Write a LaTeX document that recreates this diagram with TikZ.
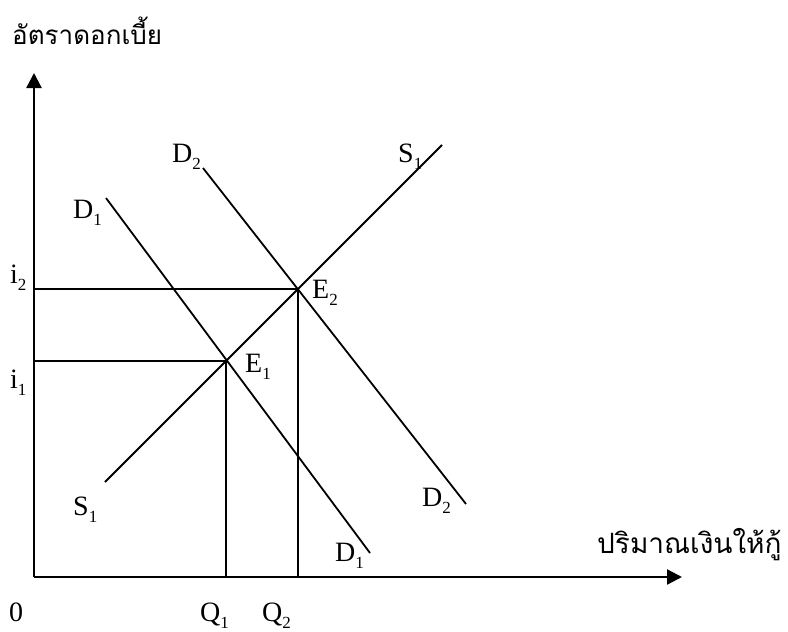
\documentclass[tikz,border=0pt]{standalone}
\usepackage{fontspec}
\setmainfont{Liberation Serif}
\newfontfamily\thaifont[Script=Thai]{Loma}
\usetikzlibrary{arrows.meta}
\newcommand\lowsub[1]{\raisebox{-7pt}{\fontsize{17}{20}\selectfont #1}}
\begin{document}
\begin{tikzpicture}[x=1pt,y=-1pt,
  lbl/.style={anchor=base west,inner sep=0pt,font=\fontsize{28}{30}\selectfont},
  thai/.style={anchor=base west,inner sep=0pt,font=\thaifont\fontsize{26}{30}\selectfont},
  thaix/.style={anchor=base west,inner sep=0pt,font=\thaifont\fontsize{28}{30}\selectfont},
  axis/.style={line width=2.3pt,-{Triangle[length=15pt,width=15pt]}},
  curve/.style={line width=1.8pt},
  guide/.style={line width=1.8pt}]
\useasboundingbox (0,0) rectangle (788,632);
% axes
\coordinate (O) at (34,577);
\coordinate (Ytop) at (34,73);
\coordinate (Xend) at (682,577);
\draw[axis] (O) -- (Ytop);
\draw[axis] (O) -- (Xend);
% equilibrium points
\coordinate (E1) at (226,361);
\coordinate (E2) at (298,289);
\coordinate (Ai1) at (34,361);
\coordinate (Ai2) at (34,289);
\coordinate (Q1p) at (226,577);
\coordinate (Q2p) at (298,577);
% curve endpoints
\coordinate (S1a) at (105,482);
\coordinate (S1b) at (442,145);
\coordinate (D1a) at (106,198);
\coordinate (D1b) at (370,553);
\coordinate (D2a) at (203,168);
\coordinate (D2b) at (466,504);
% guides
\draw[guide] (Ai2) -- (E2) -- (Q2p);
\draw[guide] (Ai1) -- (E1) -- (Q1p);
% curves
\draw[curve] (S1a) -- (S1b);
\draw[curve] (D1a) -- (D1b);
\draw[curve] (D2a) -- (D2b);
% labels
\node[thai] (ytitle) at (12,44) {อัตราดอกเบี้ย};
\node[thaix] (xtitle) at (597,553) {ปริมาณเงินให้กู้};
\node[lbl] (lD2t) at (172,162) {D\lowsub{2}};
\node[lbl] (lS1t) at (398,162) {S\lowsub{1}};
\node[lbl] (lD1t) at (73,218) {D\lowsub{1}};
\node[lbl] (li2) at (10,283) {i\lowsub{2}};
\node[lbl] (lE2) at (312,298) {E\lowsub{2}};
\node[lbl] (lE1) at (245,372) {E\lowsub{1}};
\node[lbl] (li1) at (10,388) {i\lowsub{1}};
\node[lbl] (lS1b) at (73,515) {S\lowsub{1}};
\node[lbl] (lD2b) at (422,506) {D\lowsub{2}};
\node[lbl] (lD1b) at (335,561) {D\lowsub{1}};
\node[lbl] (l0) at (9,621) {0};
\node[lbl] (lQ1) at (200,621) {Q\lowsub{1}};
\node[lbl] (lQ2) at (262,621) {Q\lowsub{2}};
\end{tikzpicture}
\end{document}
